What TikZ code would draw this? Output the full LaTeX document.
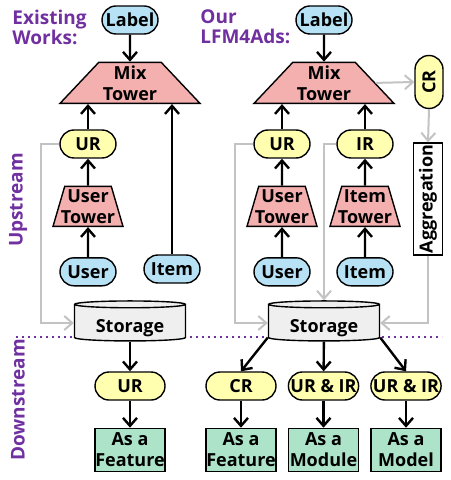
\documentclass[tikz,border=0pt]{standalone}
\usepackage{fontspec}
\setmainfont{Open Sans}
\usepackage{xcolor}
\definecolor{lfmblue}{HTML}{B7E1F5}
\definecolor{lfmpink}{HTML}{F4AFAF}
\definecolor{lfmyellow}{HTML}{FFFFAF}
\definecolor{lfmgreen}{HTML}{ADE3C8}
\definecolor{lfmstore}{HTML}{EFEFEF}
\definecolor{lfmgray}{HTML}{C3C3C3}
\definecolor{lfmpurple}{HTML}{7030A0}
\usepackage{tikz}
\usetikzlibrary{arrows.meta,positioning,shapes.geometric,calc}
\newcommand{\lfmfont}{\bfseries\fontsize{9}{10.5}\selectfont}
\tikzset{
  lfmpill/.style={draw,line width=0.7pt,rounded corners=7pt,minimum height=14pt,minimum width=28pt,inner sep=1pt,align=center,font=\lfmfont},
  lfmin/.style={lfmpill,fill=lfmblue},
  lfmrep/.style={lfmpill,fill=lfmyellow},
  lfmtower/.style={trapezium,draw,line width=0.7pt,fill=lfmpink,trapezium stretches body,inner xsep=-6pt,inner ysep=0pt,align=center,font=\lfmfont},
  lfmmix/.style={lfmtower,trapezium left angle=42,trapezium right angle=42,minimum width=70pt,minimum height=20.5pt},
  lfmsub/.style={lfmtower,trapezium left angle=71,trapezium right angle=71,minimum width=35pt,minimum height=20pt},
  lfmstorage/.style={cylinder,shape border rotate=90,aspect=0.1,draw,line width=0.7pt,fill=lfmstore,minimum width=55.5pt,minimum height=20pt,inner sep=0pt,text height=11.8pt,font=\lfmfont},
  lfmuse/.style={draw,line width=0.7pt,fill=lfmgreen,minimum width=35pt,minimum height=21.5pt,inner sep=0pt,align=center,font=\lfmfont},
  lfmflow/.style={-{Straight Barb[length=4pt,width=7pt]},line width=1.2pt},
  lfmfeed/.style={-{Straight Barb[length=4pt,width=7pt]},line width=1pt,lfmgray},
  lfmtitle/.style={text=lfmpurple,align=left,inner sep=0pt,font=\bfseries\fontsize{9.5}{10}\selectfont},
}

\begin{document}
\begin{tikzpicture}[x=0.5pt,y=-0.5pt]
 % upstream training and downstream use of representations
\useasboundingbox (0,0) rectangle (450,480);
\coordinate (divl) at (16,337);
\coordinate (divr) at (442,337);
\draw[lfmpurple,line width=1.2pt,dash pattern=on 1.2pt off 1.8pt] (divl) -- (divr);
\node[lfmtitle,anchor=west] (tit1) at (12,27) {Existing\\Works:};
\node[lfmtitle,anchor=west] (tit2) at (200,27) {Our\\LFM4Ads:};
\node[lfmtitle,rotate=90] (up) at (18,200) {Upstream};
\node[lfmtitle,rotate=90] (down) at (18,400) {Downstream};
% existing works
\node[lfmin] (lab1) at (130,20) {Label};
\node[lfmmix,below=13.5pt of lab1] (mix1) {Mix\\Tower};
\node[lfmrep] (ur1) at (88,144) {UR};
\node[lfmsub,below=13.5pt of ur1] (tow1) {User\\Tower};
\node[lfmin,below=15pt of tow1] (usr1) {User};
\node[lfmin] (itm1) at (172,269) {Item};
\node[lfmstorage] (sto1) at (130,323) {Storage};
\node[lfmrep,minimum width=35pt] (ur1d) at (130,386) {UR};
\node[lfmuse,below=13.5pt of ur1d] (use1) {As a\\Feature};
% our LFM4Ads
\node[lfmin] (lab2) at (324,20) {Label};
\node[lfmmix,below=13.5pt of lab2] (mix2) {Mix\\Tower};
\node[lfmrep] (ur2) at (282,144) {UR};
\node[lfmsub,below=13.5pt of ur2] (tow2) {User\\Tower};
\node[lfmin,below=15pt of tow2] (usr2) {User};
\node[lfmrep] (ir2) at (365,144) {IR};
\node[lfmsub,below=13.5pt of ir2] (tow3) {Item\\Tower};
\node[lfmin,below=15pt of tow3] (itm2) {Item};
\node[lfmrep,rotate=90,minimum width=26.5pt] (cr2) at (429,82) {CR};
\node[draw,line width=0.7pt,fill=white,rotate=90,minimum width=56pt,minimum height=14.5pt,inner sep=0pt,font=\lfmfont] (agg2) at (428,199) {Aggregation};
\node[lfmstorage] (sto2) at (324,323) {Storage};
\node[lfmrep,minimum width=35pt] (cr2d) at (241,386) {CR};
\node[lfmrep,minimum width=35pt] (uri2) at (323.5,386) {UR \& IR};
\node[lfmrep,minimum width=35pt] (uri3) at (406,386) {UR \& IR};
\node[lfmuse,below=13.5pt of cr2d] (use2) {As a\\Feature};
\node[lfmuse,below=13.5pt of uri2] (use3) {As a\\Module};
\node[lfmuse,below=13.5pt of uri3] (use4) {As a\\Model};
% connectors
\draw[lfmflow] (lab1) -- (mix1);
\draw[lfmflow] (ur1.north) -- (ur1.north |- mix1.south);
\draw[lfmflow] (tow1) -- (ur1);
\draw[lfmflow] (usr1) -- (tow1);
\draw[lfmflow] (itm1.north) -- (itm1.north |- mix1.south);
\draw[lfmfeed] (ur1.west) -- ++(-18,0) |- (sto1.west);
\draw[lfmflow] (sto1) -- (ur1d);
\draw[lfmflow] (ur1d) -- (use1);
\draw[lfmflow] (lab2) -- (mix2);
\draw[lfmflow] (ur2.north) -- (ur2.north |- mix2.south);
\draw[lfmflow] (ir2.north) -- (ir2.north |- mix2.south);
\draw[lfmflow] (tow2) -- (ur2);
\draw[lfmflow] (usr2) -- (tow2);
\draw[lfmflow] (tow3) -- (ir2);
\draw[lfmflow] (itm2) -- (tow3);
\draw[lfmfeed] (mix2.east) -- (cr2.north);
\draw[lfmfeed] (cr2.west) -- (agg2.east);
\draw[lfmfeed] (agg2.west) |- (sto2.east);
\draw[lfmfeed] (ur2.west) -- ++(-18,0) |- (sto2.west);
\draw[lfmfeed] (ir2.west) -| (sto2.north);
\draw[lfmflow] (sto2.after bottom) -- (cr2d.north);
\draw[lfmflow] (sto2) -- (uri2);
\draw[lfmflow] (sto2.before bottom) -- (uri3.north);
\draw[lfmflow] (cr2d) -- (use2);
\draw[lfmflow] (uri2) -- (use3);
\draw[lfmflow] (uri3) -- (use4);
\end{tikzpicture}
\end{document}
